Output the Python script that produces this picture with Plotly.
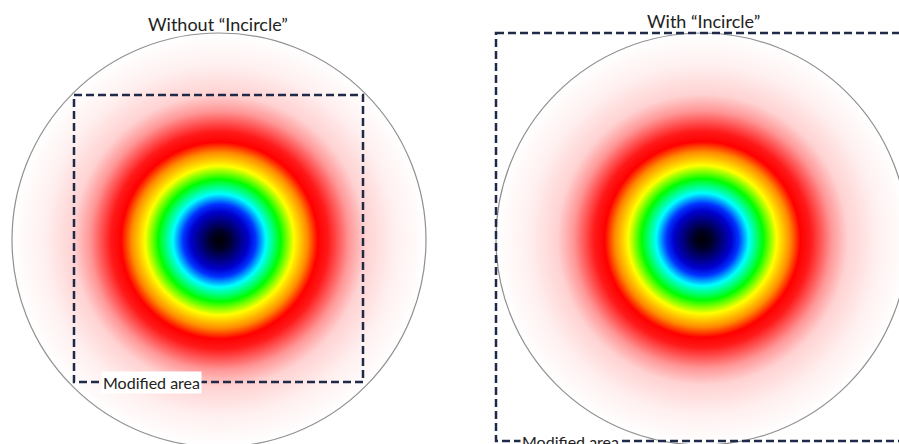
import numpy as np
import plotly.graph_objects as go

# Panel definitions (pixel coordinate space of the figure)
panel_titles = ["Without \u201cIncircle\u201d", "With \u201cIncircle\u201d"]
title_x = [218, 703]
title_y = [24, 21]
circle_cx = [219, 702]
circle_cy = [240, 239]
circle_r = [207, 206]

# Modified-area rectangles [x0, y0, x1, y1]
rect_x0 = [74, 496]
rect_y0 = [95, 33]
rect_x1 = [363, 905]
rect_y1 = [382, 441]
label_text = ["Modified area", "Modified area"]
label_x = [101, 520]

# Radial colour map: normalised radius -> colour
stop_pos = [0.0, 0.045, 0.14, 0.175, 0.225, 0.295, 0.36, 0.425, 0.475, 0.525, 0.625, 0.705, 0.85, 1.0]
stop_col = ["rgb(0,0,0)", "rgb(0,0,40)", "rgb(0,0,205)", "rgb(0,50,255)", "rgb(0,255,255)",
            "rgb(0,255,0)", "rgb(255,255,0)", "rgb(255,140,0)", "rgb(255,0,0)", "rgb(255,25,25)",
            "rgb(255,150,150)", "rgb(255,210,210)", "rgb(255,240,240)", "rgb(255,255,255)"]
colorscale = [[p, c] for p, c in zip(stop_pos, stop_col)]

fig = go.Figure()
step = 2
for cx, cy, R in zip(circle_cx, circle_cy, circle_r):
    xs = np.arange(cx - R, cx + R + step, step)
    ys = np.arange(cy - R, cy + R + step, step)
    X, Y = np.meshgrid(xs, ys)
    rr = np.sqrt((X - cx) ** 2 + (Y - cy) ** 2) / R
    z = np.clip(rr, 0, 1)
    fig.add_trace(go.Heatmap(x=xs, y=ys, z=z, colorscale=colorscale, zmin=0, zmax=1,
                             zsmooth="best", showscale=False, hoverinfo="skip"))

shapes = []
annotations = []
for i in range(2):
    cx, cy, R = circle_cx[i], circle_cy[i], circle_r[i]
    shapes.append(dict(type="circle", xref="x", yref="y", x0=cx - R, x1=cx + R, y0=cy - R, y1=cy + R,
                       line=dict(color="#909090", width=1.2)))
    shapes.append(dict(type="rect", xref="x", yref="y", x0=rect_x0[i], x1=rect_x1[i], y0=rect_y0[i], y1=rect_y1[i],
                       line=dict(color="#1f2a48", width=2.5, dash="8px,4px")))
    annotations.append(dict(x=title_x[i], y=title_y[i], xref="x", yref="y", text=panel_titles[i],
                            showarrow=False, font=dict(family="Lato", size=18, color="#222")))
    annotations.append(dict(x=label_x[i], y=rect_y1[i], xref="x", yref="y", text=label_text[i], showarrow=False,
                            xanchor="left", yanchor="middle", bgcolor="white", borderpad=1,
                            font=dict(family="Lato", size=16, color="#222")))

fig.update_layout(
    width=899, height=444, margin=dict(l=0, r=0, t=0, b=0),
    paper_bgcolor="white", plot_bgcolor="white",
    xaxis=dict(range=[0, 899], visible=False, showgrid=False, zeroline=False, fixedrange=True),
    yaxis=dict(range=[444, 0], visible=False, showgrid=False, zeroline=False, fixedrange=True),
    shapes=shapes, annotations=annotations, showlegend=False,
)
fig.write_html("out.html", config={"displayModeBar": False},
               post_script="document.body.style.margin='0';document.body.style.overflow='hidden';")
